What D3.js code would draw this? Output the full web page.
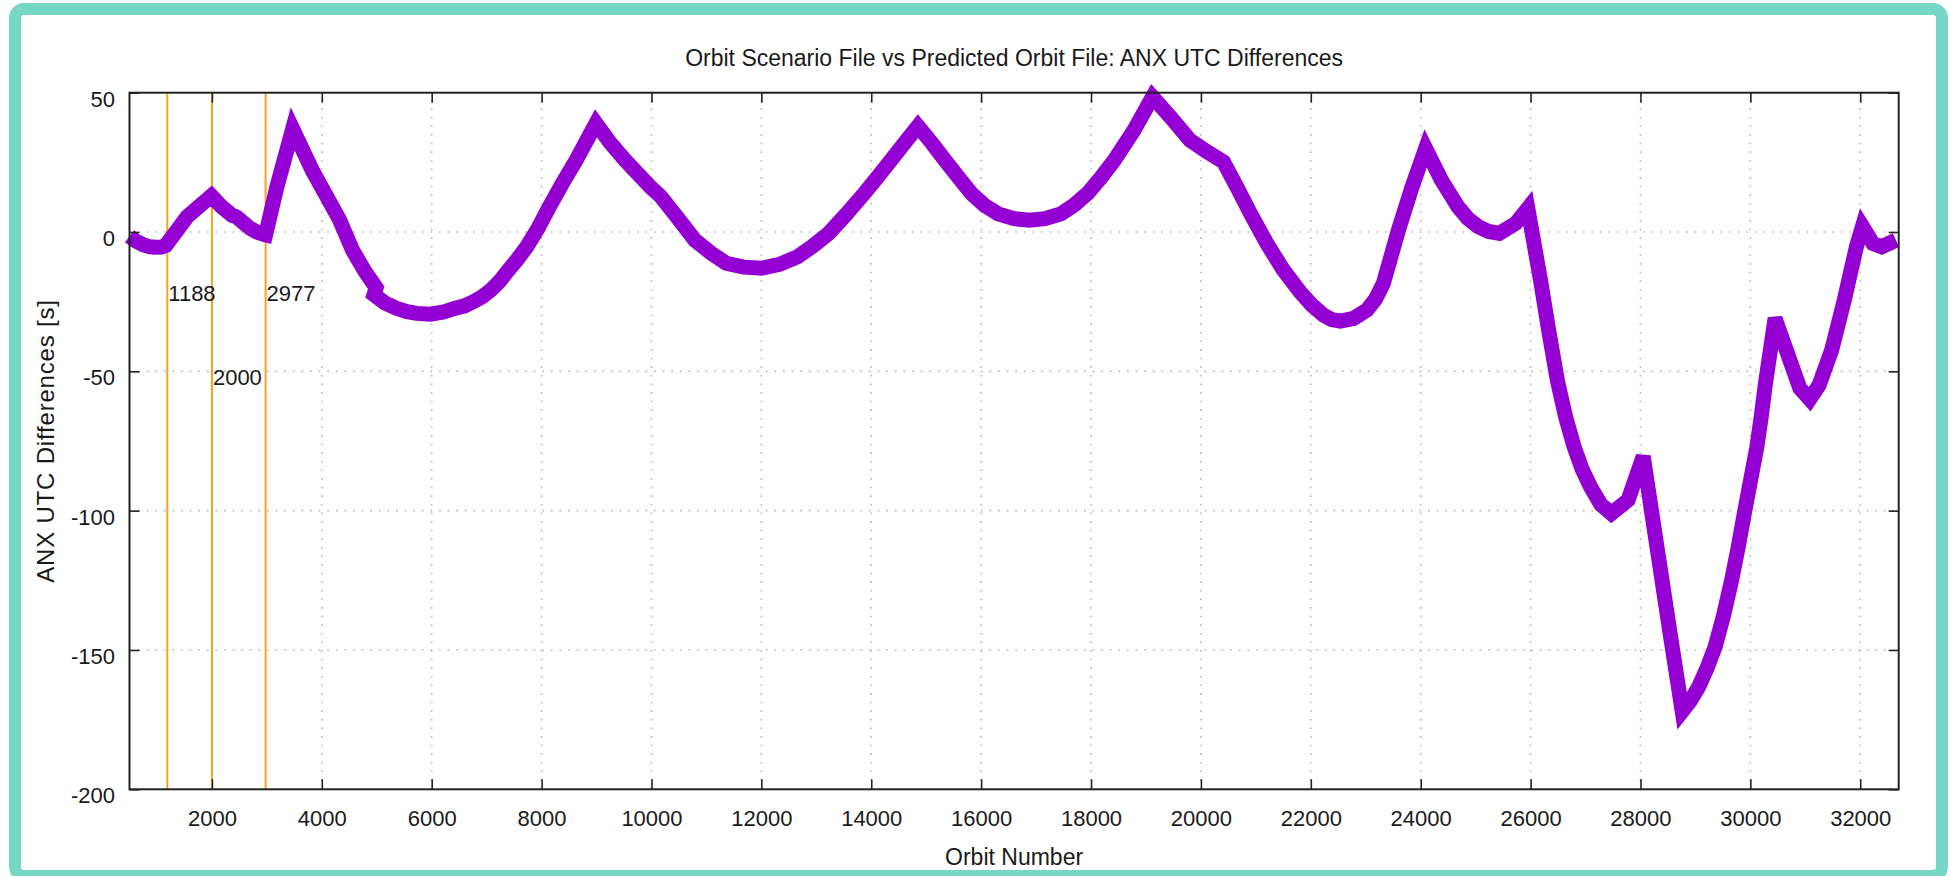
<!DOCTYPE html>
<meta charset="utf-8">
<style>
  body { margin: 0; background: #fff; }
  svg { display: block; font-family: "Liberation Sans", Arial, Helvetica, sans-serif; }
  .axis path { display: none; }
  .axis line { stroke: #222; stroke-width: 1.6px; }
  .axis text { fill: #1a1a1a; font-size: 22px; }
  .grid line { stroke: #b8b8b8; stroke-width: 1.6px; stroke-dasharray: 1.6 7; }
</style>
<body>
<svg width="1949" height="876"></svg>
<script src="https://cdn.jsdelivr.net/npm/d3@7"></script>
<script>
// orbit number vs ANX UTC difference [s]
const orbits = [500, 620, 740, 870, 990, 1080, 1160, 1550, 1990, 2180, 2370, 2450,
  2690, 2820, 2940, 2977, 3180, 3470, 3830, 4320, 4560, 4780, 4990, 4950, 5150,
  5360, 5550, 5730, 5970, 6200, 6400, 6600, 6760, 6920, 7080, 7240, 7400, 7560,
  7730, 7940, 8140, 8380, 8630, 8990, 9250, 9520, 9975, 10170, 10480, 10790,
  11080, 11360, 11680, 12005, 12330, 12655, 12940, 13225, 13550, 13875, 14120,
  14360, 14600, 14850, 15100, 15340, 15580, 15820, 16060, 16310, 16600, 16880,
  17160, 17450, 17700, 17940, 18180, 18425, 18780, 19120, 19440, 19800, 20110,
  20410, 20650, 20900, 21200, 21500, 21805, 22020, 22230, 22380, 22540, 22780,
  23020, 23180, 23320, 23600, 23845, 24090, 24375, 24680, 24860, 25050, 25240,
  25430, 25730, 25950, 26190, 26340, 26490, 26640, 26790, 26940, 27090, 27280,
  27470, 27775, 28050, 28300, 28530, 28760, 28900, 29060, 29210, 29360, 29510,
  29660, 29780, 29890, 30000, 30120, 30200, 30270, 30450, 30720, 30900, 31080,
  31250, 31480, 31710, 31930, 32040, 32230, 32390, 32650];
const diffs = [-1.5, -3.3, -4.5, -5.3, -5.5, -5.4, -4.8, 5.5, 13, 9, 6, 5.4,
  1.4, 0, -0.8, -1, 16, 37, 22, 4.5, -6.5, -14, -20, -22.5, -25.5,
  -27.4, -28.6, -29.2, -29.5, -28.8, -27.5, -26.5, -25, -23.2, -20.8, -17.6, -13.6, -9.8,
  -5.3, 1.5, 9, 17.5, 25.8, 39, 32, 25.8, 16.3, 12.7, 5, -2.9,
  -7.5, -11.2, -12.6, -13, -11.6, -8.9, -5, -0.5, 6.5, 13.9, 19.8,
  25.8, 31.8, 38, 32, 25.8, 19.8, 13.9, 9.6, 6.5, 4.8, 4.2,
  4.8, 6.5, 9.8, 13.9, 19.5, 25.8, 36.5, 48.5, 41.4, 33, 28.8,
  25.2, 16.3, 6.7, -4.1, -13.6, -21.5, -26.2, -29.8, -31.4, -32, -31,
  -28, -24, -18.5, 1, 16.3, 30, 18.7, 9, 4.8, 1.9, 0.2,
  -0.5, 3.1, 8.5, -18.4, -36.5, -53.5, -66.5, -77, -85.2, -91.4, -97.8,
  -101, -96.2, -80.5, -113, -142.9, -172, -168.5, -163.2, -156.6, -148.8, -137.8,
  -124.9, -113, -101, -89.5, -77, -66, -55, -31, -46, -56, -60,
  -55, -42.4, -24.4, -5.3, 2, -4.1, -5.3, -2.9];

const markOrbits = [1188, 2000, 2977];
const markLabelY = [-22, -52, -22];

const xTicks = [2000, 4000, 6000, 8000, 10000, 12000, 14000, 16000, 18000, 20000, 22000, 24000, 26000, 28000, 30000, 32000];
const yTicks = [-200, -150, -100, -50, 0, 50];

const svg = d3.select("svg");
const pL = 129.5, pR = 1898.7, pT = 92.7, pB = 789.3;

const x = d3.scaleLinear().domain([500, 32700]).range([pL, pR]);
const y = d3.scaleLinear().domain([-200, 50]).range([pB, pT]);

// outer frame
svg.append("rect")
  .attr("x", 15).attr("y", 9)
  .attr("width", 1927).attr("height", 867)
  .attr("rx", 9)
  .attr("fill", "#fff")
  .attr("stroke", "#76d7c4")
  .attr("stroke-width", 12);

// grid
svg.append("g").attr("class", "grid")
  .selectAll("line").data(xTicks).enter().append("line")
    .attr("x1", d => x(d)).attr("x2", d => x(d))
    .attr("y1", pB).attr("y2", pT);
svg.append("g").attr("class", "grid")
  .selectAll("line").data(yTicks.filter(d => d > -200 && d < 50)).enter().append("line")
    .attr("x1", pL).attr("x2", pR)
    .attr("y1", d => y(d)).attr("y2", d => y(d));

// orange marker lines
svg.append("g")
  .selectAll("line").data(markOrbits).enter().append("line")
    .attr("x1", d => x(d)).attr("x2", d => x(d))
    .attr("y1", pB).attr("y2", pT)
    .attr("stroke", "#f0a424")
    .attr("stroke-width", 2);

// the curve
const pts = orbits.map((o, i) => [o, diffs[i]]);
const line = d3.line().x(d => x(d[0])).y(d => y(d[1]));
svg.append("path")
  .datum(pts)
  .attr("d", line)
  .attr("fill", "none")
  .attr("stroke", "#9400d3")
  .attr("stroke-width", 15)
  .attr("stroke-linejoin", "miter")
  .attr("stroke-miterlimit", 3);

// marker labels
svg.append("g")
  .selectAll("text").data(markOrbits).enter().append("text")
    .attr("x", d => x(d) + 1)
    .attr("y", (d, i) => y(markLabelY[i]))
    .attr("dy", "0.36em")
    .attr("font-size", 22)
    .attr("fill", "#1a1a1a")
    .text(d => d);

// axes (gnuplot style: inward ticks, mirrored)
const fmt = d => String(d);
svg.append("g").attr("class", "axis")
  .attr("transform", `translate(0,${pB})`)
  .call(d3.axisBottom(x).tickValues(xTicks).tickSizeInner(-10).tickSizeOuter(0).tickPadding(21).tickFormat(fmt));
svg.append("g").attr("class", "axis")
  .attr("transform", `translate(0,${pT})`)
  .call(d3.axisTop(x).tickValues(xTicks).tickSizeInner(-10).tickSizeOuter(0).tickFormat(""));
const yAx = svg.append("g").attr("class", "axis")
  .attr("transform", `translate(${pL},0)`)
  .call(d3.axisLeft(y).tickValues(yTicks).tickSizeInner(-10).tickSizeOuter(0).tickPadding(14.5).tickFormat(fmt));
yAx.selectAll("text").attr("dy", "0.62em");
svg.append("g").attr("class", "axis")
  .attr("transform", `translate(${pR},0)`)
  .call(d3.axisRight(y).tickValues(yTicks).tickSizeInner(-10).tickSizeOuter(0).tickFormat(""));

// plot border
svg.append("rect")
  .attr("x", pL).attr("y", pT)
  .attr("width", pR - pL).attr("height", pB - pT)
  .attr("fill", "none")
  .attr("stroke", "#222")
  .attr("stroke-width", 2);

// titles
svg.append("text")
  .attr("x", (pL + pR) / 2).attr("y", 66)
  .attr("text-anchor", "middle")
  .attr("font-size", 23)
  .attr("fill", "#1a1a1a")
  .text("Orbit Scenario File vs Predicted Orbit File: ANX UTC Differences");

svg.append("text")
  .attr("x", (pL + pR) / 2).attr("y", 865)
  .attr("text-anchor", "middle")
  .attr("font-size", 23)
  .attr("fill", "#1a1a1a")
  .text("Orbit Number");

svg.append("text")
  .attr("transform", `translate(53.5,${(pT + pB) / 2}) rotate(-90)`)
  .attr("text-anchor", "middle")
  .attr("font-size", 24)
  .attr("letter-spacing", 0.8)
  .attr("fill", "#1a1a1a")
  .text("ANX UTC Differences [s]");
</script>
</body>
